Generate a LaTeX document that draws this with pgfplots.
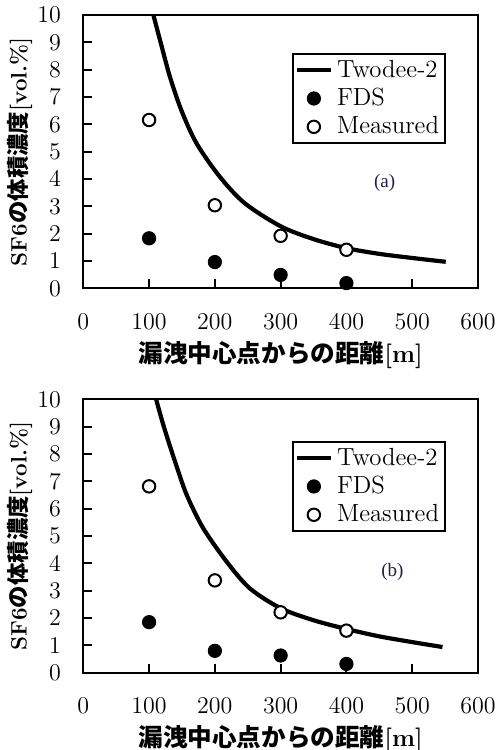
\documentclass[border=0pt]{standalone}
\usepackage{fontspec}
\usepackage{pgfplots}
\pgfplotsset{compat=1.18}
\newfontfamily\jp{Noto Sans CJK JP}
\newfontfamily\tnr{Liberation Serif}
\definecolor{lblblue}{RGB}{30,30,80}

\pgfplotsset{
 myax/.style={
  scale only axis, width=197.35pt, height=136.6pt,
  anchor=south west,
  xmin=0,xmax=600,ymin=0,ymax=10,
  xtick={0,100,...,600}, ytick={0,1,...,10},
  xtick pos=left, ytick pos=left,
  tick align=inside,
  major tick length=4.5pt,
  axis line style={line width=1pt},
  tick style={line width=1pt, black},
  tick label style={font=\fontsize{12}{14}\selectfont},
  xticklabel style={anchor=center, yshift=-16.7pt},
  yticklabel style={anchor=east, inner sep=0pt, xshift=-11pt},
  every axis x label/.style={at={(axis description cs:0.5,0)}, yshift=-33.3pt, anchor=center, font=\fontsize{12.3}{14}\selectfont},
  every axis y label/.style={at={(axis description cs:0,0.5)}, xshift=-31.7pt, rotate=90, anchor=center, font=\fontsize{11.2}{13}\selectfont},
  xlabel={{\jp\bfseries 漏洩中心点からの距離}\textbf{[m]}},
  ylabel={\textbf{SF6}{\jp\bfseries の体積濃度}\textbf{[vol.\%]}},
  legend style={anchor=north east, draw=black, line width=1pt, font=\fontsize{12.4}{14}\selectfont, inner sep=1pt, legend cell align=left},
  curve/.style={line width=2.1pt, black, smooth, no markers},
  fds/.style={only marks, mark=*, mark size=3.3pt, mark options={fill=black, draw=black, line width=0.5pt}},
  meas/.style={only marks, mark=*, mark size=3.1pt, mark options={fill=white, draw=black, line width=1pt}},
 }
}

\begin{document}
\begin{tikzpicture}
\useasboundingbox (0,0) rectangle (249.5pt,375pt);

\begin{axis}[myax, at={(41.65pt,230.85pt)},
  legend style={at={(rel axis cs:0.919,0.861)}}]
\addplot[curve] coordinates {(105.2,10.2) (107.3,9.94) (118,8.96) (131.7,7.74) (149,6.52) (172,5.31) (207.6,4.08) (245.6,3.11) (300,2.27) (350,1.8) (400,1.47) (450,1.26) (500,1.11) (551,0.97)};
\addlegendentry{Twodee-2}
\addplot[fds] coordinates {(100,1.83) (200,0.96) (300,0.49) (400,0.19)};
\addlegendentry{FDS}
\addplot[meas] coordinates {(100,6.16) (200,3.04) (300,1.92) (400,1.41)};
\addlegendentry{Measured}
\node[font=\tnr\fontsize{9.5}{11}\selectfont, text=lblblue] at (axis cs:458,3.85) {(a)};
\end{axis}

\begin{axis}[myax, at={(41.65pt,38.65pt)},
  legend style={at={(rel axis cs:0.919,0.848)}}]
\addplot[curve] coordinates {(109.5,10.2) (111.5,9.94) (123,8.96) (139.3,7.74) (157,6.52) (182,5.3) (217.7,4.07) (253,3.09) (300,2.36) (350,1.92) (400,1.6) (450,1.33) (500,1.12) (546,0.94)};
\addlegendentry{Twodee-2}
\addplot[fds] coordinates {(100,1.85) (200,0.8) (300,0.63) (400,0.32)};
\addlegendentry{FDS}
\addplot[meas] coordinates {(100,6.82) (200,3.38) (300,2.21) (400,1.54)};
\addlegendentry{Measured}
\node[font=\tnr\fontsize{9.5}{11}\selectfont, text=lblblue] at (axis cs:470,3.69) {(b)};
\end{axis}
\end{tikzpicture}
\end{document}
